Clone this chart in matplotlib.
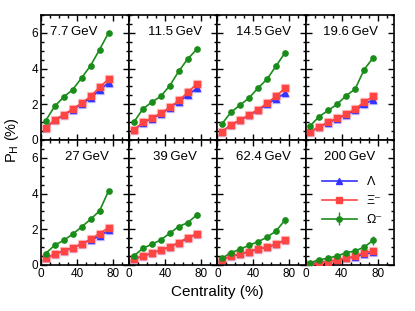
import matplotlib.pyplot as plt
from matplotlib.ticker import MultipleLocator

plt.rcParams['font.family'] = ['Liberation Sans', 'DejaVu Sans']

energies = ["7.7\u2009GeV", "11.5\u2009GeV", "14.5\u2009GeV", "19.6\u2009GeV",
            "27\u2009GeV", "39\u2009GeV", "62.4\u2009GeV", "200\u2009GeV"]
label_x = [0.37, 0.52, 0.52, 0.51, 0.52, 0.52, 0.52, 0.5]
centrality = [5, 15, 25, 35, 45, 55, 65, 75]

lam = [
    [0.65, 1.1, 1.38, 1.7, 2.0, 2.35, 2.8, 3.2],
    [0.55, 0.95, 1.2, 1.45, 1.8, 2.15, 2.5, 2.9],
    [0.45, 0.85, 1.1, 1.38, 1.65, 2.0, 2.3, 2.62],
    [0.43, 0.75, 0.95, 1.2, 1.4, 1.65, 2.0, 2.25],
    [0.37, 0.6, 0.78, 0.97, 1.16, 1.42, 1.6, 1.95],
    [0.32, 0.5, 0.65, 0.84, 1.0, 1.25, 1.5, 1.75],
    [0.28, 0.48, 0.6, 0.74, 0.88, 1.0, 1.15, 1.4],
    [0.05, 0.1, 0.2, 0.28, 0.37, 0.45, 0.6, 0.7],
]
xi = [
    [0.66, 1.13, 1.41, 1.73, 2.06, 2.44, 2.95, 3.41],
    [0.56, 0.98, 1.22, 1.5, 1.82, 2.21, 2.66, 3.15],
    [0.45, 0.85, 1.1, 1.4, 1.7, 2.05, 2.44, 2.9],
    [0.43, 0.75, 0.98, 1.22, 1.44, 1.74, 2.12, 2.44],
    [0.37, 0.6, 0.78, 0.97, 1.16, 1.44, 1.76, 2.09],
    [0.32, 0.5, 0.65, 0.84, 1.0, 1.25, 1.53, 1.72],
    [0.28, 0.5, 0.62, 0.75, 0.9, 1.0, 1.16, 1.38],
    [0.0, 0.09, 0.19, 0.28, 0.37, 0.5, 0.69, 0.78],
]
omega = [
    [1.07, 1.88, 2.4, 2.81, 3.47, 4.16, 5.06, 6.0],
    [0.99, 1.73, 2.12, 2.44, 3.04, 3.85, 4.54, 5.07],
    [0.9, 1.55, 1.95, 2.35, 2.9, 3.4, 4.13, 4.88],
    [0.79, 1.31, 1.65, 2.0, 2.48, 2.85, 3.94, 4.6],
    [0.64, 1.1, 1.38, 1.72, 2.13, 2.56, 3.03, 4.15],
    [0.5, 0.93, 1.16, 1.4, 1.78, 2.15, 2.37, 2.8],
    [0.37, 0.69, 0.88, 1.1, 1.3, 1.55, 1.9, 2.5],
    [0.13, 0.28, 0.39, 0.5, 0.69, 0.78, 1.0, 1.38],
]
omega_err = [0.08, 0.1, 0.1, 0.12, 0.12, 0.15, 0.18, 0.25]

c_lam = "#3333ff"
c_xi = "#ff4444"
c_om = "#1a8c1a"

fig, axes = plt.subplots(2, 4, figsize=(4.15, 3.11), dpi=100, sharex=True, sharey=True)
fig.subplots_adjust(left=0.099, right=0.949, top=0.952, bottom=0.148, wspace=0, hspace=0)

for i, ax in enumerate(axes.flat):
    # pale halos behind points (systematic bands)
    ax.plot(centrality, lam[i], ls="none", marker="^", ms=6, color="#c8c8ff", zorder=1)
    ax.plot(centrality, xi[i], ls="none", marker="s", ms=6, color="#ffc8c8", zorder=1)
    ax.plot(centrality, lam[i], color=c_lam, marker="^", ms=3.8, lw=1.2, label="\u039b", zorder=2)
    ax.plot(centrality, xi[i], color=c_xi, marker="s", ms=3.8, lw=1.2, label="\u039e\u207b", zorder=3)
    ax.errorbar(centrality, omega[i], yerr=[0.03] * 7 + [omega_err[i]], color=c_om,
                marker="o", ms=3.8, lw=1.2, elinewidth=1, capsize=0, label="\u03a9\u207b", zorder=4)
    ax.text(label_x[i], 0.86, energies[i], transform=ax.transAxes, ha="center", va="center",
            fontsize=9.5)
    ax.set_xlim(0, 98)
    ax.set_ylim(0, 7)
    ax.xaxis.set_major_locator(MultipleLocator(40))
    ax.xaxis.set_minor_locator(MultipleLocator(10))
    ax.yaxis.set_major_locator(MultipleLocator(2))
    ax.yaxis.set_minor_locator(MultipleLocator(0.5))
    ax.tick_params(which="both", direction="in", top=True, right=True, labelsize=8.5, pad=2)
    ax.tick_params(which="major", length=4, width=1)
    ax.tick_params(which="minor", length=2, width=1)
    for s in ax.spines.values():
        s.set_linewidth(1.2)

handles, labels = axes[1, 3].get_legend_handles_labels()
axes[1, 3].legend(handles[-3:], labels[-3:], loc="center right", frameon=False, fontsize=9,
                  handlelength=2.8, bbox_to_anchor=(1.0, 0.51), labelspacing=0.55)

fig.text(0.028, 0.55, "P$_\\mathrm{H}$ (%)", rotation=90, ha="center", va="center", fontsize=10.5)
fig.text(0.524, 0.06, "Centrality (%)", ha="center", va="center", fontsize=11)

plt.savefig("out.png")
